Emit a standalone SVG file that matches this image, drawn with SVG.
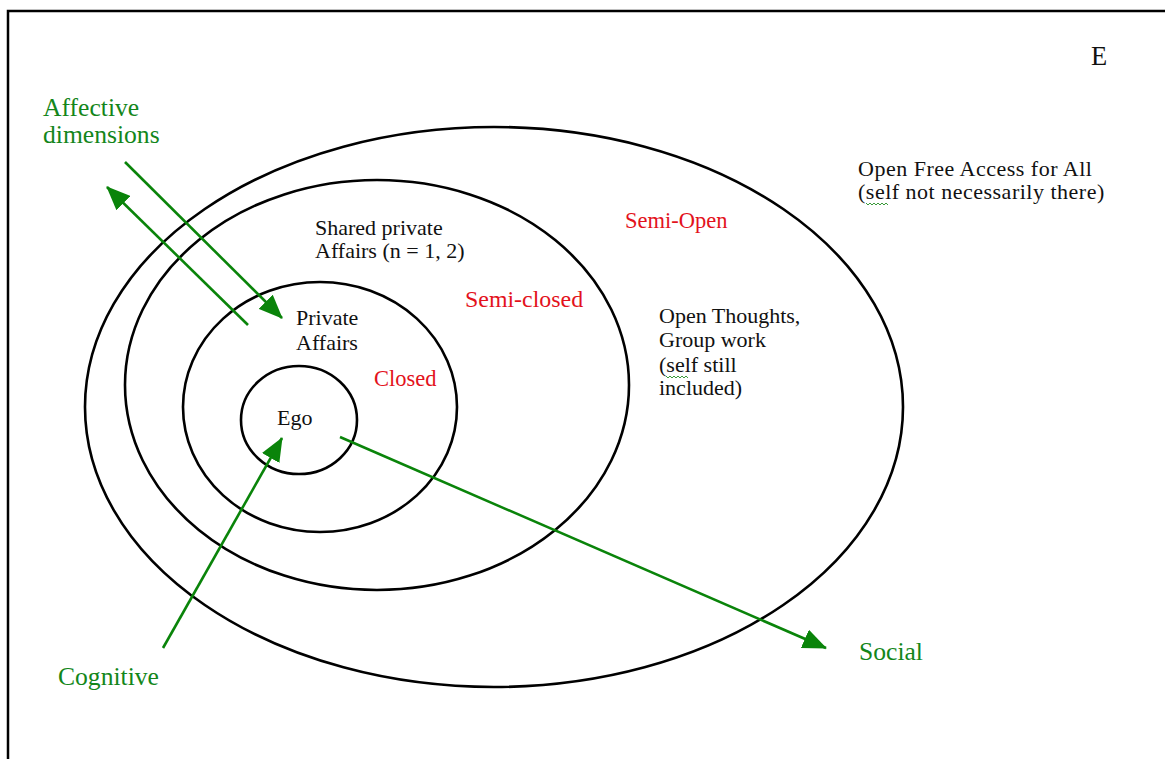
<svg xmlns="http://www.w3.org/2000/svg" width="1165" height="759" viewBox="0 0 1165 759">
<defs>
<marker id="ah" viewBox="0 0 24 20" refX="23" refY="10" markerWidth="24" markerHeight="20" markerUnits="userSpaceOnUse" orient="auto">
<path d="M0,0 L24,10 L0,20 z" fill="#0a840a"/>
</marker>
<style>
.ring{fill:none;stroke:#000;stroke-width:2.6}
.arr{fill:none;stroke:#0a840a;stroke-width:2.6;marker-end:url(#ah)}
.t{font-family:"Liberation Serif","Times New Roman",serif;font-size:22px;fill:#111}
.w{letter-spacing:0.5px}
.r{font-family:"Liberation Serif","Times New Roman",serif;font-size:22.5px;fill:#e3121c}
.g{font-family:"Liberation Serif","Times New Roman",serif;font-size:25.6px;fill:#13861a}
.sq{fill:none;stroke:#3a9a3a;stroke-width:1}
</style>
</defs>
<rect width="1165" height="759" fill="#fff"/>
<path d="M8,759 L8,11 L1165,11" fill="none" stroke="#000" stroke-width="2.5"/>
<text class="t" x="1091" y="65" style="font-size:26.5px">E</text>

<g id="open">
<ellipse class="ring" cx="494" cy="407" rx="409" ry="280"/>
<text class="t w" x="858" y="176">Open Free Access for All</text>
<text class="t w" x="858" y="199">(self not necessarily there)</text>
<path class="sq" d="M866,203 l2,2 l2,-2 l2,2 l2,-2 l2,2 l2,-2 l2,2 l2,-2 l2,2 l2,-2 l2,2"/>
</g>
<g id="semi-open">
<ellipse class="ring" cx="377" cy="385" rx="252" ry="205"/>
<text class="r" x="625" y="228">Semi-Open</text>
<text class="t" x="659" y="323">Open Thoughts,</text>
<text class="t" x="659" y="347">Group work</text>
<text class="t" x="659" y="372">(self still</text>
<text class="t" x="659" y="395">included)</text>
<path class="sq" d="M666,376 l2,2 l2,-2 l2,2 l2,-2 l2,2 l2,-2 l2,2 l2,-2 l2,2 l2,-2 l2,2"/>
</g>
<g id="semi-closed">
<ellipse class="ring" cx="320" cy="407" rx="137" ry="125"/>
<text class="t" x="315" y="235">Shared private</text>
<text class="t" x="315" y="258">Affairs (n = 1, 2)</text>
<text class="r" x="465" y="307" style="font-size:23.9px">Semi-closed</text>
</g>
<g id="closed">
<text class="t" x="296" y="325">Private</text>
<text class="t" x="296" y="350">Affairs</text>
<text class="r" x="374" y="386">Closed</text>
</g>
<g id="ego">
<ellipse class="ring" cx="299" cy="420" rx="58" ry="54"/>
<text class="t" x="277" y="425">Ego</text>
</g>

<g id="labels">
<text class="g" x="43" y="116">Affective</text>
<text class="g" x="43" y="143">dimensions</text>
<text class="g" x="58" y="685">Cognitive</text>
<text class="g" x="859" y="660">Social</text>
</g>

<g id="connectors">
<line class="arr" x1="125" y1="162" x2="282" y2="318"/>
<line class="arr" x1="248" y1="325" x2="107" y2="187"/>
<line class="arr" x1="163" y1="648" x2="282" y2="438"/>
<line class="arr" x1="340" y1="437" x2="826" y2="648"/>
</g>
</svg>
